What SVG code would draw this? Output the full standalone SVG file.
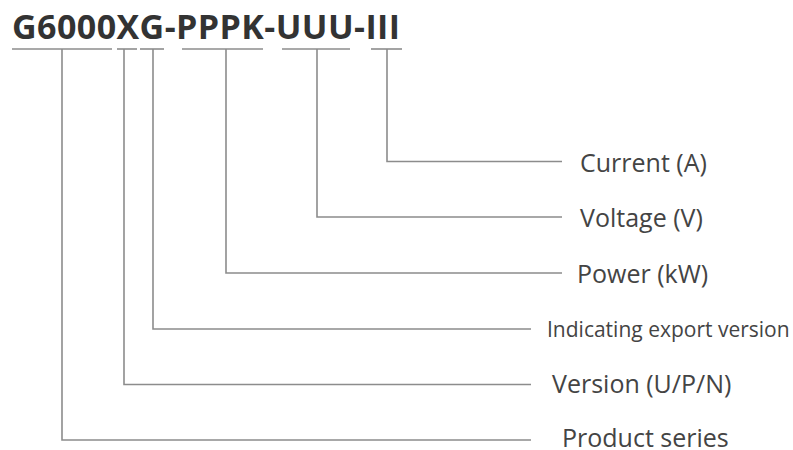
<svg xmlns="http://www.w3.org/2000/svg" width="793" height="450" viewBox="0 0 793 450">
<style>
.title{font-family:"Open Sans","Noto Sans",sans-serif;font-weight:bold;font-size:34px;fill:#333}
.lbl{font-family:"Open Sans","Noto Sans",sans-serif;font-size:25px;fill:#444}
.sm{font-family:"Open Sans","Noto Sans",sans-serif;font-size:21px;fill:#444}
.ln{stroke:#8c8c8c;stroke-width:1.6;fill:none}
</style>
<rect width="793" height="450" fill="#fff"/>
<g id="title"><text class="title" x="12" y="39" textLength="388" lengthAdjust="spacing">G6000XG-PPPK-UUU-III</text></g>
<g id="connectors">
<line class="ln" x1="12" y1="49" x2="112" y2="49"/>
<line class="ln" x1="117" y1="49" x2="137" y2="49"/>
<line class="ln" x1="140" y1="49" x2="164" y2="49"/>
<line class="ln" x1="182" y1="49" x2="263" y2="49"/>
<line class="ln" x1="282" y1="49" x2="350" y2="49"/>
<line class="ln" x1="371" y1="49" x2="402" y2="49"/>
<polyline class="ln" points="387,49 387,161.5 562,161.5"/>
<polyline class="ln" points="317,49 317,217 562,217"/>
<polyline class="ln" points="226,49 226,273 562,273"/>
<polyline class="ln" points="153,49 153,329 531,329"/>
<polyline class="ln" points="124,49 124,384.5 531,384.5"/>
<polyline class="ln" points="62,49 62,440 531,440"/>
</g>
<g id="current"><text class="lbl" x="580" y="171.5">Current (A)</text></g>
<g id="voltage"><text class="lbl" x="580" y="227">Voltage (V)</text></g>
<g id="power"><text class="lbl" x="577" y="283">Power (kW)</text></g>
<g id="export"><text class="sm" x="547" y="336.5">Indicating export version</text></g>
<g id="version"><text class="lbl" x="552" y="393">Version (U/P/N)</text></g>
<g id="series"><text class="lbl" x="562" y="447">Product series</text></g>
</svg>
